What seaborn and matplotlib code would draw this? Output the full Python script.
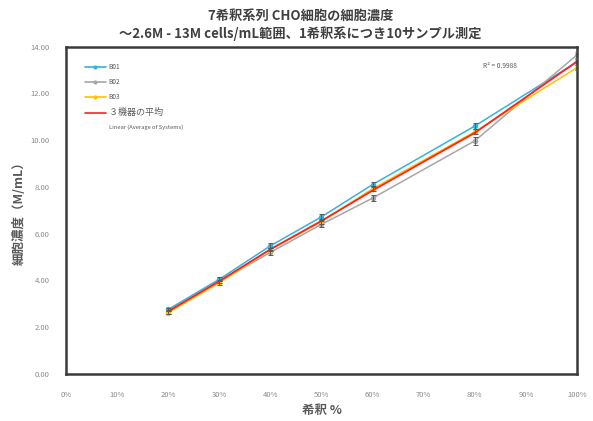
import numpy as np
import pandas as pd
import matplotlib
matplotlib.use("Agg")
import matplotlib.pyplot as plt
from matplotlib.lines import Line2D
import seaborn as sns

sns.set_theme(style="white")
plt.rcParams['font.family'] = ['Noto Sans CJK JP', 'DejaVu Sans']

# Dilution levels (%) and measured concentrations (M cells/mL)
dilution = [20, 30, 40, 50, 60, 80, 100]
b01 = [2.76, 4.05, 5.48, 6.72, 8.10, 10.60, 13.34]
b02 = [2.66, 3.96, 5.20, 6.40, 7.52, 9.97, 13.64]
b03 = [2.62, 3.90, 5.32, 6.52, 7.92, 10.36, 13.10]
b01_err = [0.08, 0.08, 0.10, 0.12, 0.10, 0.14, 0.12]
b02_err = [0.08, 0.08, 0.10, 0.12, 0.14, 0.18, 0.12]
b03_err = [0.06, 0.08, 0.08, 0.10, 0.10, 0.12, 0.10]
series_names = ["B01", "B02", "B03"]
avg_label = "３機器の平均"
fit_label = "Linear (Average of Systems)"
r2_text = "R² = 0.9988"
x_ticks = list(range(0, 101, 10))
y_ticks = [0, 2, 4, 6, 8, 10, 12, 14]

colors = {"B01": "#33b2e6", "B02": "#a6a6a6", "B03": "#ffc000"}

rows = []
for name, vals in zip(series_names, [b01, b02, b03]):
    for d, v in zip(dilution, vals):
        rows.append({"dilution": d, "value": v, "series": name})
df = pd.DataFrame(rows)
avg = df.groupby("dilution")["value"].mean().reset_index()

fig = plt.figure(figsize=(5.93, 4.21), dpi=100)
ax = fig.add_axes([0.1113, 0.1116, 0.8617, 0.7779])

sns.lineplot(data=df, x="dilution", y="value", hue="series", palette=colors,
             marker="o", markersize=4, markeredgewidth=0, linewidth=1.1,
             ax=ax, legend=False, errorbar=None)
for name, vals, err in zip(series_names, [b01, b02, b03], [b01_err, b02_err, b03_err]):
    ax.errorbar(dilution, vals, yerr=err, fmt="none", ecolor="#595959",
                elinewidth=0.7, capsize=1.8, capthick=0.7, zorder=4)
sns.lineplot(data=avg, x="dilution", y="value", color="#ff2020", linewidth=1.3,
             ax=ax, errorbar=None)

ax.set_xlim(0, 100)
ax.set_ylim(0, 14)
ax.set_xticks(x_ticks)
ax.set_xticklabels([f"{t}%" for t in x_ticks])
ax.set_yticks(y_ticks)
ax.set_yticklabels([f"{t:.2f}" for t in y_ticks])
ax.tick_params(axis="x", length=0, pad=12, labelsize=5.5, labelcolor="#8a8a8a")
ax.tick_params(axis="y", length=0, pad=12, labelsize=5.5, labelcolor="#8a8a8a")
for s in ax.spines.values():
    s.set_visible(True)
    s.set_color("#3a3a3a")
    s.set_linewidth(1.8)

ax.set_xlabel("希釈 %", fontsize=9, color="#595959", fontweight="bold", labelpad=4)
ax.set_ylabel("細胞濃度（M/mL）", fontsize=9, color="#595959", fontweight="bold", labelpad=3)

fig.suptitle("7希釈系列 CHO細胞の細胞濃度\n～2.6M - 13M cells/mL範囲、1希釈系につき10サンプル測定",
             fontsize=9.5, color="#404040", fontweight="bold", y=0.978, x=0.507, linespacing=1.25)

handles = [Line2D([], [], color=colors[n], marker="o", markersize=3, markeredgewidth=0, linewidth=1.2)
           for n in series_names]
handles.append(Line2D([], [], color="#ff2020", linewidth=1.2))
handles.append(Line2D([], [], color="none"))
labels = series_names + [avg_label, fit_label]
leg = ax.legend(handles, labels, loc="upper left", bbox_to_anchor=(0.025, 0.968),
                frameon=False, handlelength=3.2, handletextpad=0.4, labelspacing=1.05,
                fontsize=4.8)
for t in leg.get_texts():
    t.set_color("#595959")
leg.get_texts()[3].set_fontsize(6.5)
leg.get_texts()[4].set_fontsize(4.2)

ax.text(0.817, 0.935, r2_text, transform=ax.transAxes, fontsize=4.8, color="#595959")

fig.savefig("out.png", dpi=100)
